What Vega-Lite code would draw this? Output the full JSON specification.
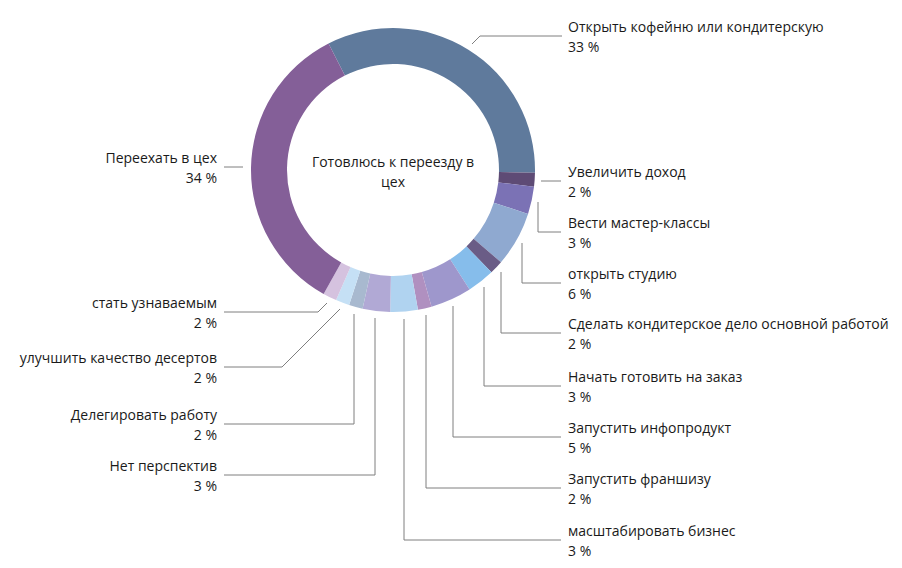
{
  "$schema": "https://vega.github.io/schema/vega-lite/v6.json",
  "width": 902,
  "height": 568,
  "autosize": {"type": "fit", "contains": "padding"},
  "padding": 0,
  "background": "white",
  "config": {
    "view": {"stroke": null},
    "text": {"font": "Open Sans", "fontSize": 14, "color": "#1a1a1a"}
  },
  "datasets": {
    "segments": [
      {"i": 1, "name": "Открыть кофейню или кондитерскую", "count": 21},
      {"i": 2, "name": "Увеличить доход", "count": 1},
      {"i": 3, "name": "Вести мастер-классы", "count": 2},
      {"i": 4, "name": "открыть студию", "count": 4},
      {"i": 5, "name": "Сделать кондитерское дело основной работой", "count": 1},
      {"i": 6, "name": "Начать готовить на заказ", "count": 2},
      {"i": 7, "name": "Запустить инфопродукт", "count": 3},
      {"i": 8, "name": "Запустить франшизу", "count": 1},
      {"i": 9, "name": "масштабировать бизнес", "count": 2},
      {"i": 10, "name": "Нет перспектив", "count": 2},
      {"i": 11, "name": "Делегировать работу", "count": 1},
      {"i": 12, "name": "улучшить качество десертов", "count": 1},
      {"i": 13, "name": "стать узнаваемым", "count": 1},
      {"i": 14, "name": "Переехать в цех", "count": 22}
    ],
    "labels": [
      {"name": "Открыть кофейню или кондитерскую", "pct": "33 %", "side": "R", "x": 175, "y": -134},
      {"name": "Увеличить доход", "pct": "2 %", "side": "R", "x": 175, "y": 11},
      {"name": "Вести мастер-классы", "pct": "3 %", "side": "R", "x": 175, "y": 62},
      {"name": "открыть студию", "pct": "6 %", "side": "R", "x": 175, "y": 113},
      {"name": "Сделать кондитерское дело основной работой", "pct": "2 %", "side": "R", "x": 175, "y": 163},
      {"name": "Начать готовить на заказ", "pct": "3 %", "side": "R", "x": 175, "y": 216},
      {"name": "Запустить инфопродукт", "pct": "5 %", "side": "R", "x": 175, "y": 267},
      {"name": "Запустить франшизу", "pct": "2 %", "side": "R", "x": 175, "y": 318},
      {"name": "масштабировать бизнес", "pct": "3 %", "side": "R", "x": 175, "y": 370},
      {"name": "Нет перспектив", "pct": "3 %", "side": "L", "x": -176, "y": 305},
      {"name": "Делегировать работу", "pct": "2 %", "side": "L", "x": -176, "y": 254},
      {"name": "улучшить качество десертов", "pct": "2 %", "side": "L", "x": -176, "y": 197},
      {"name": "стать узнаваемым", "pct": "2 %", "side": "L", "x": -176, "y": 142},
      {"name": "Переехать в цех", "pct": "34 %", "side": "L", "x": -176, "y": -3}
    ],
    "leaders": [
      {"name": "Открыть кофейню или кондитерскую", "k": 1, "x": 79, "y": -126},
      {"name": "Открыть кофейню или кондитерскую", "k": 2, "x": 87, "y": -134},
      {"name": "Открыть кофейню или кондитерскую", "k": 3, "x": 169, "y": -134},
      {"name": "Увеличить доход", "k": 1, "x": 148, "y": 11},
      {"name": "Увеличить доход", "k": 2, "x": 168, "y": 11},
      {"name": "Вести мастер-классы", "k": 1, "x": 145, "y": 32},
      {"name": "Вести мастер-классы", "k": 2, "x": 145, "y": 62},
      {"name": "Вести мастер-классы", "k": 3, "x": 168, "y": 62},
      {"name": "открыть студию", "k": 1, "x": 129, "y": 73},
      {"name": "открыть студию", "k": 2, "x": 129, "y": 113},
      {"name": "открыть студию", "k": 3, "x": 168, "y": 113},
      {"name": "Сделать кондитерское дело основной работой", "k": 1, "x": 108, "y": 102},
      {"name": "Сделать кондитерское дело основной работой", "k": 2, "x": 108, "y": 163},
      {"name": "Сделать кондитерское дело основной работой", "k": 3, "x": 168, "y": 163},
      {"name": "Начать готовить на заказ", "k": 1, "x": 91, "y": 117},
      {"name": "Начать готовить на заказ", "k": 2, "x": 91, "y": 216},
      {"name": "Начать готовить на заказ", "k": 3, "x": 168, "y": 216},
      {"name": "Запустить инфопродукт", "k": 1, "x": 60, "y": 136},
      {"name": "Запустить инфопродукт", "k": 2, "x": 60, "y": 267},
      {"name": "Запустить инфопродукт", "k": 3, "x": 168, "y": 267},
      {"name": "Запустить франшизу", "k": 1, "x": 33, "y": 145},
      {"name": "Запустить франшизу", "k": 2, "x": 33, "y": 318},
      {"name": "Запустить франшизу", "k": 3, "x": 168, "y": 318},
      {"name": "масштабировать бизнес", "k": 1, "x": 11, "y": 149},
      {"name": "масштабировать бизнес", "k": 2, "x": 11, "y": 370},
      {"name": "масштабировать бизнес", "k": 3, "x": 168, "y": 370},
      {"name": "Нет перспектив", "k": 1, "x": -18, "y": 148},
      {"name": "Нет перспектив", "k": 2, "x": -18, "y": 305},
      {"name": "Нет перспектив", "k": 3, "x": -169, "y": 305},
      {"name": "Делегировать работу", "k": 1, "x": -39, "y": 144},
      {"name": "Делегировать работу", "k": 2, "x": -39, "y": 254},
      {"name": "Делегировать работу", "k": 3, "x": -169, "y": 254},
      {"name": "улучшить качество десертов", "k": 1, "x": -53, "y": 139},
      {"name": "улучшить качество десертов", "k": 2, "x": -111, "y": 197},
      {"name": "улучшить качество десертов", "k": 3, "x": -169, "y": 197},
      {"name": "стать узнаваемым", "k": 1, "x": -66, "y": 133},
      {"name": "стать узнаваемым", "k": 2, "x": -75, "y": 142},
      {"name": "стать узнаваемым", "k": 3, "x": -169, "y": 142},
      {"name": "Переехать в цех", "k": 1, "x": -150, "y": -3},
      {"name": "Переехать в цех", "k": 2, "x": -169, "y": -3}
    ]
  },
  "layer": [
    {
      "data": {"name": "segments"},
      "mark": {"type": "arc", "outerRadius": 142, "innerRadius": 106},
      "encoding": {
        "theta": {"field": "count", "type": "quantitative", "stack": true, "scale": {"range": [-0.4712, 5.812]}},
        "order": {"field": "i", "type": "quantitative"},
        "color": {
          "field": "name", "type": "nominal", "legend": null,
          "scale": {
            "domain": ["Открыть кофейню или кондитерскую", "Увеличить доход", "Вести мастер-классы", "открыть студию", "Сделать кондитерское дело основной работой", "Начать готовить на заказ", "Запустить инфопродукт", "Запустить франшизу", "масштабировать бизнес", "Нет перспектив", "Делегировать работу", "улучшить качество десертов", "стать узнаваемым", "Переехать в цех"],
            "range": ["#5F7A9C", "#5E4B75", "#7B72B5", "#8FA9D0", "#6A5C86", "#86BDEB", "#9E97CC", "#B090C0", "#B0D3F0", "#B1A9D5", "#A8B9CF", "#C5E0F5", "#D5C2DF", "#845F98"]
          }
        },
        "x": {"datum": 0, "type": "quantitative", "axis": null, "scale": {"domain": [-393, 509], "nice": false, "zero": false}},
        "y": {"datum": 0, "type": "quantitative", "axis": null, "scale": {"domain": [-170, 398], "nice": false, "zero": false, "reverse": true}}
      }
    },
    {
      "data": {"name": "leaders"},
      "mark": {"type": "line", "color": "#7f7f7f", "strokeWidth": 1},
      "encoding": {
        "x": {"field": "x", "type": "quantitative", "axis": null, "scale": {"domain": [-393, 509], "nice": false, "zero": false}},
        "y": {"field": "y", "type": "quantitative", "axis": null, "scale": {"domain": [-170, 398], "nice": false, "zero": false, "reverse": true}},
        "detail": {"field": "name"},
        "order": {"field": "k", "type": "quantitative"}
      }
    },
    {
      "data": {"name": "labels"},
      "transform": [{"filter": "datum.side == 'R'"}],
      "mark": {"type": "text", "align": "left", "baseline": "alphabetic", "dy": -4},
      "encoding": {
        "x": {"field": "x", "type": "quantitative", "axis": null, "scale": {"domain": [-393, 509], "nice": false, "zero": false}},
        "y": {"field": "y", "type": "quantitative", "axis": null, "scale": {"domain": [-170, 398], "nice": false, "zero": false, "reverse": true}},
        "text": {"field": "name"}
      }
    },
    {
      "data": {"name": "labels"},
      "transform": [{"filter": "datum.side == 'R'"}],
      "mark": {"type": "text", "align": "left", "baseline": "alphabetic", "dy": 16},
      "encoding": {
        "x": {"field": "x", "type": "quantitative", "axis": null, "scale": {"domain": [-393, 509], "nice": false, "zero": false}},
        "y": {"field": "y", "type": "quantitative", "axis": null, "scale": {"domain": [-170, 398], "nice": false, "zero": false, "reverse": true}},
        "text": {"field": "pct"}
      }
    },
    {
      "data": {"name": "labels"},
      "transform": [{"filter": "datum.side == 'L'"}],
      "mark": {"type": "text", "align": "right", "baseline": "alphabetic", "dy": -4},
      "encoding": {
        "x": {"field": "x", "type": "quantitative", "axis": null, "scale": {"domain": [-393, 509], "nice": false, "zero": false}},
        "y": {"field": "y", "type": "quantitative", "axis": null, "scale": {"domain": [-170, 398], "nice": false, "zero": false, "reverse": true}},
        "text": {"field": "name"}
      }
    },
    {
      "data": {"name": "labels"},
      "transform": [{"filter": "datum.side == 'L'"}],
      "mark": {"type": "text", "align": "right", "baseline": "alphabetic", "dy": 16},
      "encoding": {
        "x": {"field": "x", "type": "quantitative", "axis": null, "scale": {"domain": [-393, 509], "nice": false, "zero": false}},
        "y": {"field": "y", "type": "quantitative", "axis": null, "scale": {"domain": [-170, 398], "nice": false, "zero": false, "reverse": true}},
        "text": {"field": "pct"}
      }
    },
    {
      "data": {"values": [{}]},
      "mark": {"type": "text", "align": "center", "baseline": "middle", "lineHeight": 20, "text": ["Готовлюсь к переезду в", "цех"]},
      "encoding": {
        "x": {"datum": 0, "type": "quantitative", "axis": null, "scale": {"domain": [-393, 509], "nice": false, "zero": false}},
        "y": {"datum": -7, "type": "quantitative", "axis": null, "scale": {"domain": [-170, 398], "nice": false, "zero": false, "reverse": true}}
      }
    }
  ]
}
